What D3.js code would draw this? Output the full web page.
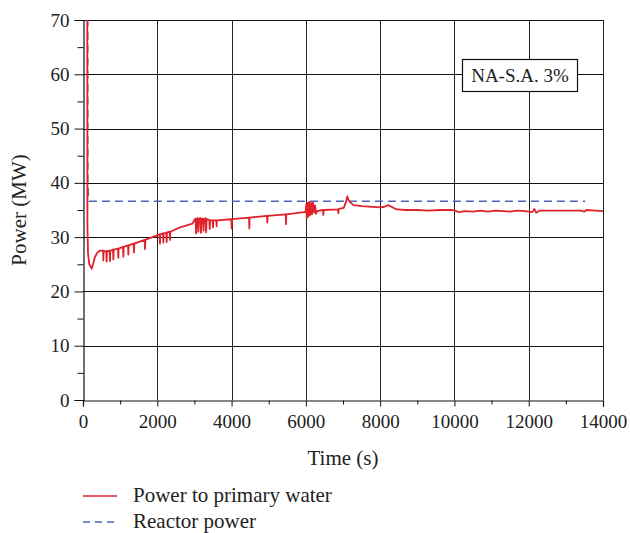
<!DOCTYPE html>
<html>
<head>
<meta charset="utf-8">
<script src="https://cdn.jsdelivr.net/npm/d3@7"></script>
<style>
  body { margin: 0; background: #fff; }
  text { font-family: "Liberation Serif", "DejaVu Serif", serif; fill: #222; }
</style>
</head>
<body>
<div id="chart"></div>
<script>
  // power to primary water, [time s, MW]
  var primaryPower = [
    [115, 75], [120, 32], [135, 27], [170, 25], [234, 24.2], [270, 25.0], [320, 26.3], [380, 27.1], [450, 27.5], [500, 27.5],
    [540, 27.5], [548, 25.7], [556, 27.4],
    [628, 27.4], [637, 25.5], [646, 27.4],
    [718, 27.5], [727, 25.6], [736, 27.5],
    [808, 27.7], [817, 25.9], [826, 27.7],
    [942, 27.9], [951, 26.2], [960, 27.9],
    [1077, 28.2], [1086, 26.4], [1095, 28.2],
    [1212, 28.5], [1221, 26.8], [1230, 28.5],
    [1364, 28.8], [1373, 27.2], [1382, 28.8],
    [1660, 29.5], [1669, 27.8], [1678, 29.5],
    [1900, 30.1],
    [2064, 30.5], [2073, 28.8], [2082, 30.5],
    [2154, 30.7], [2163, 29.0], [2172, 30.7],
    [2244, 30.8], [2253, 29.1], [2262, 30.9],
    [2333, 31.0], [2342, 29.5], [2351, 31.0],
    [2611, 31.8], [2950, 32.5], [3000, 33.2],
    [3030, 33.4], [3045, 30.7], [3060, 33.4], [3090, 33.5], [3105, 31.0], [3120, 33.4],
    [3160, 33.5], [3175, 30.8], [3190, 33.4], [3230, 33.4], [3245, 31.2], [3260, 33.3],
    [3300, 33.5], [3315, 30.9], [3330, 33.3], [3400, 33.2], [3412, 31.5], [3424, 33.1],
    [3490, 33.1], [3500, 31.8], [3510, 33.1], [3590, 33.1], [3598, 32.0], [3606, 33.1],
    [3994, 33.3], [4003, 31.6], [4012, 33.3],
    [4470, 33.6], [4478, 31.6], [4486, 33.6],
    [4955, 33.9], [4963, 32.7], [4971, 33.9],
    [5457, 34.2], [5465, 32.4], [5473, 34.2],
    [5950, 34.6],
    [5990, 34.6], [6010, 36.0], [6025, 33.5], [6045, 36.3], [6065, 33.8], [6090, 36.5], [6110, 34.0],
    [6140, 36.3], [6165, 34.2], [6195, 36.4], [6225, 34.5], [6250, 35.8], [6275, 34.3], [6300, 34.8],
    [6463, 35.0], [6471, 34.1], [6479, 35.0],
    [6867, 35.1], [6875, 34.4], [6883, 35.2],
    [7020, 35.4], [7080, 36.5], [7117, 37.5], [7150, 36.8], [7200, 36.4], [7278, 35.9], [7500, 35.7],
    [8000, 35.5], [8120, 35.6], [8220, 35.9], [8330, 35.5], [8445, 35.1], [8700, 35.0], [9000, 35.0],
    [9300, 34.9], [9600, 35.0], [9950, 35.0], [10050, 34.8], [10100, 34.6], [10300, 34.8], [10500, 34.7],
    [10700, 34.9], [10900, 34.7], [11100, 34.9], [11300, 34.8], [11500, 34.7], [11700, 34.9], [11900, 34.8],
    [12100, 34.6], [12150, 35.2], [12200, 34.5], [12300, 34.9], [12600, 34.9], [13000, 34.9], [13400, 34.9],
    [13500, 34.7], [13550, 35.0], [13800, 34.9], [14000, 34.8]
  ];

  // reactor power, [time s, MW]
  var reactorPower = [
    [125, 75], [128, 40], [145, 37.5], [175, 36.6], [13520, 36.6]
  ];

  var xTicks = [0, 2000, 4000, 6000, 8000, 10000, 12000, 14000],
      xMinor = [1000, 3000, 5000, 7000, 9000, 11000, 13000],
      yTicks = [0, 10, 20, 30, 40, 50, 60, 70],
      yMinor = [5, 15, 25, 35, 45, 55, 65];

  var width = 630, height = 533,
      margin = {top: 20, right: 27, bottom: 133, left: 83},
      w = width - margin.left - margin.right,
      h = height - margin.top - margin.bottom;

  var svg = d3.select('#chart').append('svg')
      .attr('width', width)
      .attr('height', height);

  var g = svg.append('g')
      .attr('transform', 'translate(' + margin.left + ',' + margin.top + ')');

  var x = d3.scaleLinear().domain([0, 14000]).range([0, w]),
      y = d3.scaleLinear().domain([0, 70]).range([h, 0]);

  // grid
  g.append('g').selectAll('line').data(xTicks.slice(1)).enter().append('line')
      .attr('x1', function (d) { return Math.round(x(d)) + 0.5; })
      .attr('x2', function (d) { return Math.round(x(d)) + 0.5; })
      .attr('y1', 0).attr('y2', h)
      .attr('stroke', '#222').attr('stroke-width', 1);
  g.append('g').selectAll('line').data(yTicks.slice(1)).enter().append('line')
      .attr('x1', 0).attr('x2', w)
      .attr('y1', function (d) { return Math.round(y(d)) + 0.5; })
      .attr('y2', function (d) { return Math.round(y(d)) + 0.5; })
      .attr('stroke', '#111').attr('stroke-width', 1);

  // axes
  g.append('g').attr('transform', 'translate(0,' + (h + 0.5) + ')')
      .call(d3.axisBottom(x).tickValues(xTicks).tickSize(6).tickPadding(8).tickFormat(d3.format('d')));
  g.append('g').attr('transform', 'translate(0,' + (h + 0.5) + ')')
      .call(d3.axisBottom(x).tickValues(xMinor).tickSize(4).tickFormat(''))
      .select('.domain').remove();
  g.append('g').attr('transform', 'translate(0.5,0)')
      .call(d3.axisLeft(y).tickValues(yTicks).tickSize(9).tickPadding(5));
  g.append('g').attr('transform', 'translate(0.5,0)')
      .call(d3.axisLeft(y).tickValues(yMinor).tickSize(6).tickFormat(''))
      .select('.domain').remove();

  svg.selectAll('.domain').attr('stroke', '#111').attr('stroke-width', 1.2);
  svg.selectAll('.tick line').attr('stroke', '#111');
  svg.selectAll('.tick text').style('font-size', '19px').attr('fill', '#222');

  // frame top
  g.append('line').attr('x1', 0).attr('x2', w).attr('y1', 0.5).attr('y2', 0.5).attr('stroke', '#111');

  // clip
  g.append('clipPath').attr('id', 'clip').append('rect')
      .attr('width', w).attr('height', h);

  var line = d3.line()
      .x(function (d) { return x(d[0]); })
      .y(function (d) { return y(d[1]); });

  g.append('path').datum(reactorPower)
      .attr('clip-path', 'url(#clip)')
      .attr('d', line)
      .attr('fill', 'none')
      .attr('stroke', '#4f62b5')
      .attr('stroke-width', 1.6)
      .attr('stroke-dasharray', '8,5');

  g.append('path').datum(primaryPower)
      .attr('clip-path', 'url(#clip)')
      .attr('d', line)
      .attr('fill', 'none')
      .attr('stroke', '#e0222a')
      .attr('stroke-width', 1.8)
      .attr('stroke-linejoin', 'round');

  // label box
  var box = g.append('g').attr('transform', 'translate(' + (462 - margin.left) + ',' + (59 - margin.top) + ')');
  box.append('rect').attr('x', 0.5).attr('y', 0.5).attr('width', 115).attr('height', 32)
      .attr('fill', '#fff').attr('stroke', '#111').attr('stroke-width', 1.2);
  box.append('text').attr('x', 58).attr('y', 23).attr('text-anchor', 'middle')
      .style('font-size', '19px').text('NA-S.A. 3%');

  // axis titles
  svg.append('text').attr('x', margin.left + w / 2).attr('y', 465)
      .attr('text-anchor', 'middle').style('font-size', '21px').text('Time (s)');
  svg.append('text').attr('transform', 'translate(26,' + (margin.top + h / 2) + ') rotate(-90)')
      .attr('text-anchor', 'middle').style('font-size', '21px').text('Power (MW)');

  // legend
  var legend = svg.append('g');
  legend.append('line').attr('x1', 83).attr('x2', 117).attr('y1', 496).attr('y2', 496)
      .attr('stroke', '#e0222a').attr('stroke-width', 1.5);
  legend.append('text').attr('x', 133).attr('y', 502).style('font-size', '21px').text('Power to primary water');
  legend.append('line').attr('x1', 83).attr('x2', 117).attr('y1', 522).attr('y2', 522)
      .attr('stroke', '#4f62b5').attr('stroke-width', 1.5).attr('stroke-dasharray', '7,5');
  legend.append('text').attr('x', 133).attr('y', 528).style('font-size', '21px').text('Reactor power');
</script>
</body>
</html>
